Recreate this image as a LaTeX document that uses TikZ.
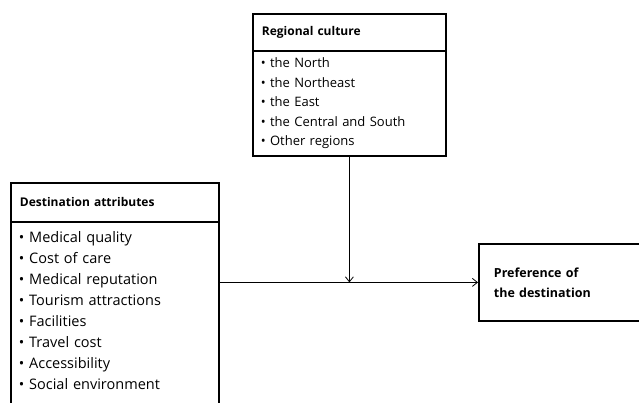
\documentclass[tikz,border=0pt]{standalone}
\usepackage{fontspec}
\setmainfont{Open Sans}
\usetikzlibrary{arrows.meta}
\tikzset{
  headbox/.style={draw,line width=1.8pt,anchor=north west,minimum height=37pt,
    text width=#1,align=left,inner xsep=9pt,font=\bfseries\fontsize{12}{14}\selectfont},
  listbox/.style={draw,line width=1.8pt,anchor=north west,text width=#1,
    align=left,inner xsep=8pt},
  link/.style={line width=0.8pt,-{Straight Barb[length=5pt,width=8pt]}}
}
\begin{document}
\begin{tikzpicture}[x=1pt,y=-1pt]
\useasboundingbox (0,0) rectangle (639,403);
%regional culture
\node[headbox=175pt] (rchead) at (252,13) {Regional culture};
\node[listbox=177pt,minimum height=105pt,font=\fontsize{13}{19.5}\selectfont] (rcbody) at (252,50)
  {\textbullet{} the North\\\textbullet{} the Northeast\\\textbullet{} the East\\
   \textbullet{} the Central and South\\\textbullet{} Other regions};
%destination attributes
\node[headbox=190pt,minimum height=39pt] (dahead) at (10,182) {Destination attributes};
\node[listbox=192pt,inner ysep=10pt,font=\fontsize{14.5}{21}\selectfont] (dabody) at (10,221)
  {\textbullet{} Medical quality\\\textbullet{} Cost of care\\\textbullet{} Medical reputation\\
   \textbullet{} Tourism attractions\\\textbullet{} Facilities\\\textbullet{} Travel cost\\
   \textbullet{} Accessibility\\\textbullet{} Social environment\\[-4pt]\mbox{}};
%preference
\node[draw,line width=1.8pt,anchor=north west,minimum height=77pt,text width=160pt,
  inner xsep=15pt,align=left,font=\bfseries\fontsize{12.5}{20}\selectfont] (pref) at (478,243)
  {Preference of\\the destination};
%links
\draw[link] (rcbody.south) -- (rcbody.south |- pref.west);
\draw[link] (dabody.east |- pref.west) -- (pref.west);
\end{tikzpicture}
\end{document}
